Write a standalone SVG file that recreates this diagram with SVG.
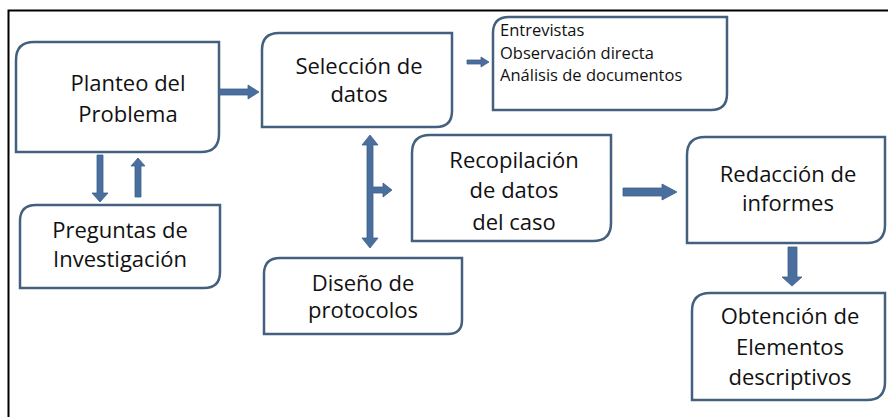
<svg xmlns="http://www.w3.org/2000/svg" width="888" height="417" viewBox="0 0 888 417">
<style>
.box{fill:#ffffff;stroke:#44607f;stroke-width:2.5}
.t{font-family:"Open Sans","Noto Sans",sans-serif;font-size:22px;fill:#111;text-anchor:middle}
.s{font-family:"Open Sans","Noto Sans",sans-serif;font-size:16.5px;fill:#111}
.ar{fill:#4a6f9f;stroke:#3d5f8c;stroke-width:0.8}
</style>
<rect width="888" height="417" fill="#ffffff"/>
<path d="M8.5 417 V10.5 H888" fill="none" stroke="#000" stroke-width="2"/>
<g id="planteo">
<path class="box" d="M34 42 H219 V134 Q219 152 201 152 H16 V60 Q16 42 34 42 Z"/>
<text class="t" x="128" y="91">Planteo del</text>
<text class="t" x="128" y="122">Problema</text>
</g>
<g id="seleccion">
<path class="box" d="M279 33 H452 V111 Q452 127 436 127 H262 V50 Q262 33 279 33 Z"/>
<text class="t" x="359" y="74">Selección de</text>
<text class="t" x="359" y="102">datos</text>
</g>
<g id="tecnicas">
<path class="box" d="M509 17 H727 V94 Q727 110 711 110 H493 V33 Q493 17 509 17 Z"/>
<text class="s" x="500" y="36">Entrevistas</text>
<text class="s" x="500" y="58.5">Observación directa</text>
<text class="s" x="500" y="81">Análisis de documentos</text>
</g>
<g id="recopilacion">
<path class="box" d="M430 135 H611 V223 Q611 241 593 241 H412 V153 Q412 135 430 135 Z"/>
<text class="t" x="514" y="168">Recopilación</text>
<text class="t" x="514" y="198">de datos</text>
<text class="t" x="514" y="230">del caso</text>
</g>
<g id="redaccion">
<path class="box" d="M705 137 H885 V225 Q885 243 867 243 H687 V155 Q687 137 705 137 Z"/>
<text class="t" x="788" y="182">Redacción de</text>
<text class="t" x="788" y="211">informes</text>
</g>
<g id="obtencion">
<path class="box" d="M710 293 H885 V382 Q885 400 867 400 H692 V311 Q692 293 710 293 Z"/>
<text class="t" x="790" y="324">Obtención de</text>
<text class="t" x="790" y="355">Elementos</text>
<text class="t" x="790" y="385">descriptivos</text>
</g>
<g id="preguntas">
<path class="box" d="M36 205 H220 V272 Q220 288 204 288 H20 V221 Q20 205 36 205 Z"/>
<text class="t" x="120" y="238">Preguntas de</text>
<text class="t" x="120" y="267">Investigación</text>
</g>
<g id="diseno">
<path class="box" d="M280 258 H462 V320 Q462 334 448 334 H264 V274 Q264 258 280 258 Z"/>
<text class="t" x="363" y="291">Diseño de</text>
<text class="t" x="363" y="318">protocolos</text>
</g>
<g id="connectors">
<polygon class="ar" points="219,89 248,89 248,85 259,92 248,99 248,95 219,95"/>
<polygon class="ar" points="467,60 481,60 481,57 489,62 481,67 481,64 467,64"/>
<polygon class="ar" points="97,155 103,155 103,193 108,193 100,202 92,193 97,193"/>
<polygon class="ar" points="135,197 141,197 141,166 145,166 138,158 131,166 135,166"/>
<polygon class="ar" points="370,135 378,145 373,145 373,187 383,187 383,183 392,190 383,197 383,193 373,193 373,238 378,238 370,248 362,238 367,238 367,145 362,145"/>
<polygon class="ar" points="623,188 662,188 662,184 677,192 662,200 662,196 623,196"/>
<polygon class="ar" points="788,247 797,247 797,277 802,277 792,286 782,277 788,277"/>
</g>
</svg>
